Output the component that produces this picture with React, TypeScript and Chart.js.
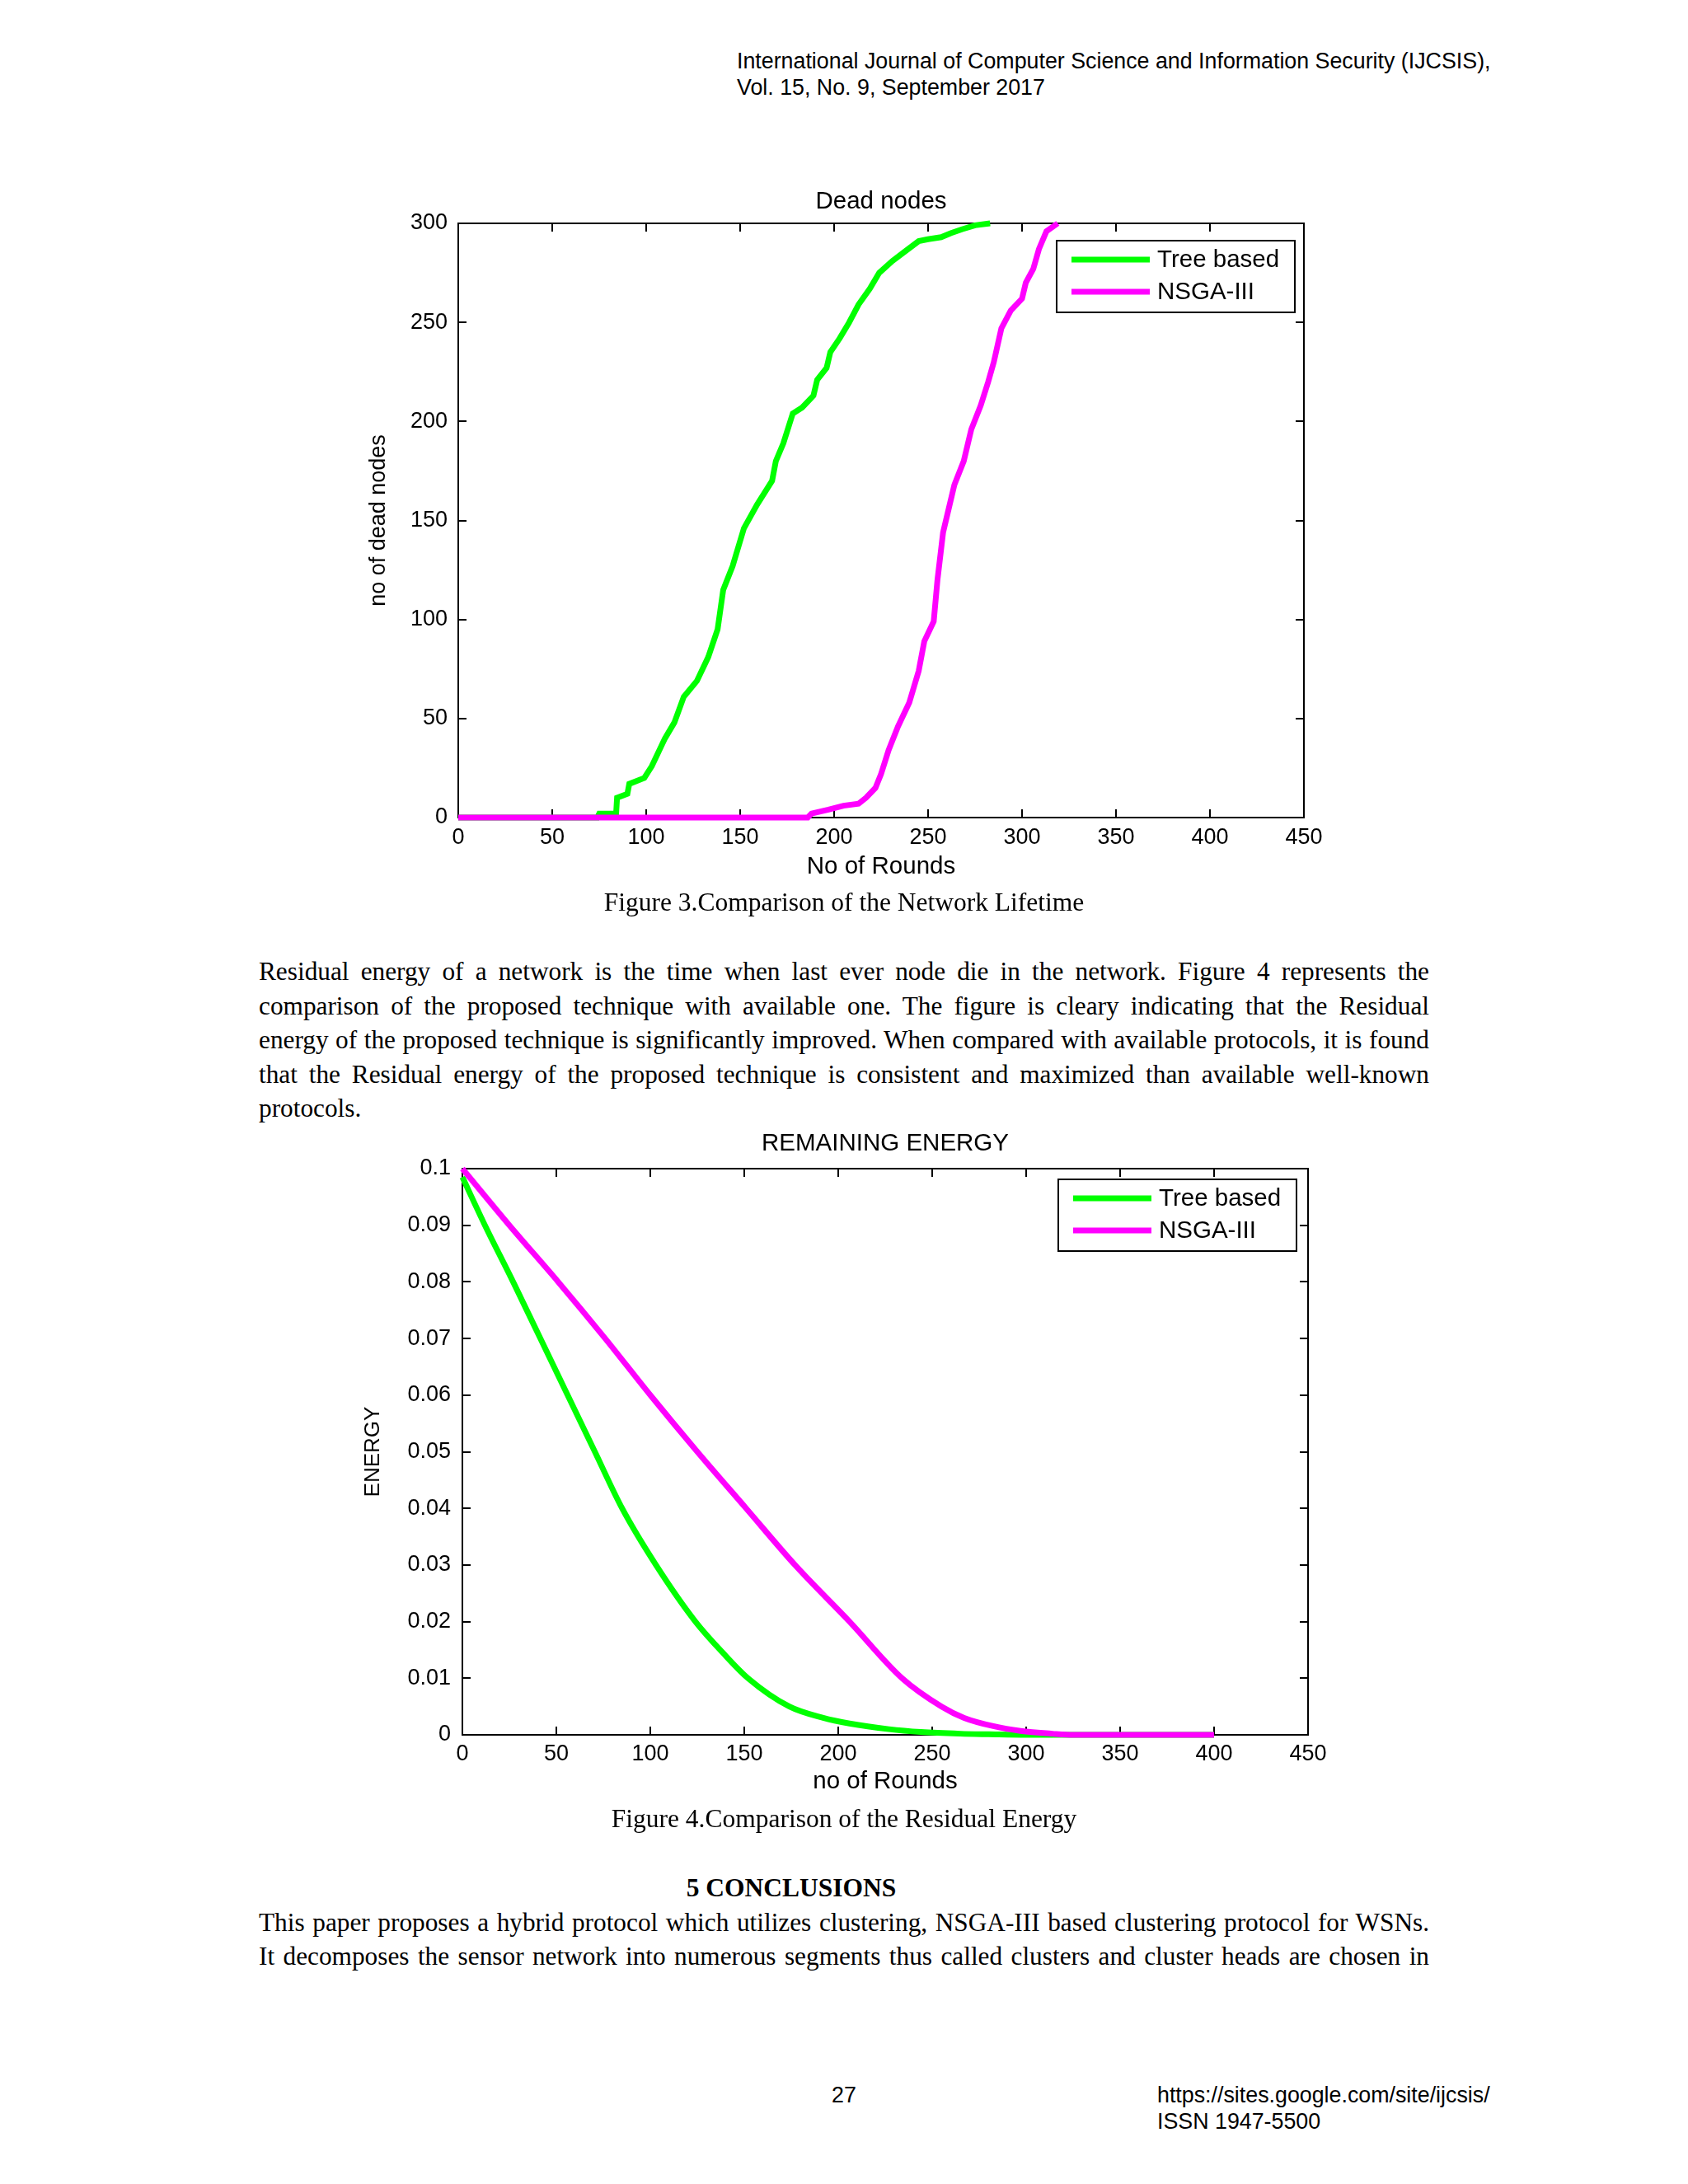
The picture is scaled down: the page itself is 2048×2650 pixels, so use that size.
import React, { useEffect, useRef } from "react";
import { Chart, registerables } from "chart.js";

Chart.register(...registerables);

// ---------- Figure 3 data (Dead nodes) ----------
const deadXTicks = [0, 50, 100, 150, 200, 250, 300, 350, 400, 450];
const deadYTicks = [0, 50, 100, 150, 200, 250, 300];
const treeRounds = [0, 74, 75, 84, 84.5, 90, 91, 99, 103, 110, 115, 120, 127, 133, 138, 141, 146, 152, 159, 167, 169, 173, 178, 183, 189, 191, 196, 198, 203, 208, 213, 219, 224, 231, 238, 245, 250, 257, 262, 268, 275, 283];
const treeDead = [0, 0, 2, 2, 10, 12, 17, 20, 26, 40, 48, 61, 69, 81, 95, 115, 127, 146, 158, 170, 180, 189, 204, 207, 213, 221, 227, 235, 242, 250, 259, 267, 275, 281, 286, 291, 292, 293, 295, 297, 299, 300];
const nsgaRounds = [0, 186, 188, 197, 205, 213, 217, 222, 225, 229, 234, 240, 245, 248, 253, 255, 258, 261, 264, 269, 273, 278, 282, 285, 289, 294, 300, 302, 306, 309, 313, 319];
const nsgaDead = [0, 0, 2, 4, 6, 7, 10, 15, 22, 34, 46, 58, 74, 89, 99, 120, 144, 156, 168, 180, 196, 208, 220, 230, 247, 256, 262, 270, 277, 287, 296, 300];

// ---------- Figure 4 data (Remaining energy) ----------
const energyXTicks = [0, 50, 100, 150, 200, 250, 300, 350, 400, 450];
const energyYTicks = [0, 0.01, 0.02, 0.03, 0.04, 0.05, 0.06, 0.07, 0.08, 0.09, 0.1];
const treeEnergyRounds = [0, 12, 27, 41.5, 56, 70.5, 85, 103, 124, 140, 152, 174, 192, 206, 227, 244, 265, 280, 300, 400];
const treeEnergy = [0.0985, 0.09, 0.08, 0.07, 0.06, 0.05, 0.04, 0.03, 0.02, 0.014, 0.01, 0.005, 0.003, 0.002, 0.001, 0.0005, 0.0002, 0.0001, 0, 0];
const nsgaEnergyRounds = [0, 25, 51, 76, 100, 125, 151, 177, 206, 234, 255, 267, 283, 297, 314, 325, 400];
const nsgaEnergy = [0.1, 0.09, 0.08, 0.07, 0.06, 0.05, 0.04, 0.03, 0.02, 0.01, 0.005, 0.003, 0.0015, 0.0007, 0.0002, 0, 0];

const seriesNames = ["Tree based", "NSGA-III"];
const seriesColors = ["#00ff00", "#ff00ff"];

const SANS = "'Liberation Sans', Arial, sans-serif";
const SERIF = "'Liberation Serif', 'Times New Roman', serif";

const matlabPlugin = {
  id: "matlabBox",
  beforeDatasetsDraw(chart: any, _args: any, opts: any) {
    const { ctx, chartArea } = chart;
    const { left, right, top, bottom } = chartArea;
    const xs = chart.scales.x;
    const ys = chart.scales.y;
    ctx.save();
    ctx.strokeStyle = "#000";
    ctx.lineWidth = 2;
    ctx.strokeRect(left, top, right - left, bottom - top);
    const tl = opts.tickLen || 10;
    ctx.beginPath();
    (opts.xTicks || []).forEach((v: number) => {
      const px = Math.round(xs.getPixelForValue(v));
      ctx.moveTo(px, bottom);
      ctx.lineTo(px, bottom - tl);
      ctx.moveTo(px, top);
      ctx.lineTo(px, top + tl);
    });
    (opts.yTicks || []).forEach((v: number) => {
      const py = Math.round(ys.getPixelForValue(v));
      ctx.moveTo(left, py);
      ctx.lineTo(left + tl, py);
      ctx.moveTo(right, py);
      ctx.lineTo(right - tl, py);
    });
    ctx.stroke();
    ctx.restore();
  },
  afterDatasetsDraw(chart: any, _args: any, opts: any) {
    const { ctx, chartArea } = chart;
    const w = opts.legendW;
    const h = opts.legendH;
    const bx = chartArea.right - opts.legendRight - w;
    const by = chartArea.top + opts.legendTop;
    ctx.save();
    ctx.fillStyle = "#fff";
    ctx.fillRect(bx, by, w, h);
    ctx.strokeStyle = "#000";
    ctx.lineWidth = 2;
    ctx.strokeRect(bx, by, w, h);
    ctx.font = `29.5px ${SANS}`;
    ctx.textBaseline = "middle";
    ctx.textAlign = "left";
    seriesNames.forEach((name, i) => {
      const ry = by + opts.rows[i];
      ctx.strokeStyle = seriesColors[i];
      ctx.lineWidth = 7;
      ctx.beginPath();
      ctx.moveTo(bx + 18, ry);
      ctx.lineTo(bx + 113, ry);
      ctx.stroke();
      ctx.fillStyle = "#000";
      ctx.fillText(name, bx + 122, ry + 1);
    });
    ctx.restore();
  },
};

function makeConfig(p: any) {
  const tickFont = { family: SANS, size: 27 };
  const ds = (i: number, xs: number[], ys: number[]) => ({
    label: seriesNames[i],
    data: xs.map((x: number, k: number) => ({ x, y: ys[k] })),
    borderColor: seriesColors[i],
    borderWidth: 7,
    pointRadius: 0,
    tension: p.smooth ? 0.4 : 0,
    cubicInterpolationMode: p.smooth ? "monotone" : "default",
    fill: false,
    clip: false,
    order: 2 - i,
  });
  return {
    type: "line",
    data: {
      datasets: [ds(0, p.s1x, p.s1y), ds(1, p.s2x, p.s2y)],
    },
    options: {
      responsive: false,
      animation: false,
      devicePixelRatio: 1,
      layout: { padding: { left: 0, top: 0, right: p.padRight, bottom: 0 } },
      plugins: {
        legend: { display: false },
        tooltip: { enabled: false },
        title: {
          display: true,
          text: p.title,
          fullSize: false,
          color: "#000",
          font: { family: SANS, size: 29.5, weight: "normal" },
          padding: { top: p.titlePadTop, bottom: p.titlePadBottom },
        },
        matlabBox: {
          xTicks: p.xTicks,
          yTicks: p.yTicks,
          tickLen: 10,
          legendW: 289,
          legendH: 87,
          legendRight: p.legendRight,
          legendTop: p.legendTop,
          rows: [23, 62],
        },
      },
      scales: {
        x: {
          type: "linear",
          min: p.xTicks[0],
          max: p.xTicks[p.xTicks.length - 1],
          afterBuildTicks: (s: any) => {
            s.ticks = p.xTicks.map((v: number) => ({ value: v }));
          },
          ticks: {
            font: tickFont,
            color: "#000",
            padding: p.xTickPad,
            maxRotation: 0,
            autoSkip: false,
            callback: (v: any) => String(v),
          },
          grid: { display: false, drawTicks: false },
          border: { display: false },
          title: {
            display: true,
            text: p.xTitle,
            color: "#000",
            font: { family: SANS, size: 29.5 },
            padding: { top: 0, bottom: p.xTitlePad },
          },
          afterFit: (s: any) => {
            s.height = p.xAxisH;
            s.paddingLeft = 0;
            s.paddingRight = 0;
          },
        },
        y: {
          type: "linear",
          min: p.yTicks[0],
          max: p.yTicks[p.yTicks.length - 1],
          afterBuildTicks: (s: any) => {
            s.ticks = p.yTicks.map((v: number) => ({ value: v }));
          },
          ticks: {
            font: tickFont,
            color: "#000",
            padding: p.yTickPad,
            autoSkip: false,
            callback: (v: any) => String(Math.round(Number(v) * 100) / 100),
          },
          grid: { display: false, drawTicks: false },
          border: { display: false },
          title: {
            display: true,
            text: p.yTitle,
            color: "#000",
            font: { family: SANS, size: p.yTitleSize },
            padding: { top: p.yTitlePad, bottom: 0 },
          },
          afterFit: (s: any) => {
            s.width = p.yAxisW;
            s.paddingTop = 0;
            s.paddingBottom = 0;
          },
        },
      },
    },
    plugins: [matlabPlugin],
  };
}

function ChartCanvas({ left, top, width, height, params }: any) {
  const ref = useRef<HTMLCanvasElement>(null);
  useEffect(() => {
    const chart = new Chart(ref.current as HTMLCanvasElement, makeConfig(params) as any);
    return () => chart.destroy();
  }, []);
  return (
    <canvas
      ref={ref}
      width={width}
      height={height}
      style={{ position: "absolute", left, top, width, height }}
    />
  );
}

const deadParams = {
  title: "Dead nodes",
  xTitle: "No of Rounds",
  yTitle: "no of dead nodes",
  yTitleSize: 27,
  smooth: false,
  xTicks: deadXTicks,
  yTicks: deadYTicks,
  s1x: treeRounds,
  s1y: treeDead,
  s2x: nsgaRounds,
  s2y: nsgaDead,
  padRight: 68,
  titlePadTop: 27,
  titlePadBottom: 8.6,
  xAxisH: 108,
  yAxisW: 156,
  xTickPad: 8,
  yTickPad: 13,
  xTitlePad: 30,
  yTitlePad: 43.8,
  legendRight: 11,
  legendTop: 21,
};

const energyParams = {
  title: "REMAINING ENERGY",
  xTitle: "no of Rounds",
  yTitle: "ENERGY",
  yTitleSize: 26,
  smooth: true,
  xTicks: energyXTicks,
  yTicks: energyYTicks,
  s1x: treeEnergyRounds,
  s1y: treeEnergy,
  s2x: nsgaEnergyRounds,
  s2y: nsgaEnergy,
  padRight: 63,
  titlePadTop: 30.5,
  titlePadBottom: 12.1,
  xAxisH: 115,
  yAxisW: 161,
  xTickPad: 7,
  yTickPad: 14,
  xTitlePad: 40,
  yTitlePad: 37.4,
  legendRight: 14,
  legendTop: 13,
};

const para1 = [
  "Residual energy of a network is the time when last ever node die in the network. Figure 4 represents the",
  "comparison of the proposed technique with available one. The figure is cleary indicating that the Residual",
  "energy of the proposed technique is significantly improved. When compared with available protocols, it is found",
  "that the Residual energy of the proposed technique is consistent and maximized than available well-known",
  "protocols.",
];
const para2 = [
  "This paper proposes a hybrid protocol which utilizes clustering, NSGA-III based clustering protocol for WSNs.",
  "It decomposes the sensor network into numerous segments thus called clusters and cluster heads are chosen in",
];

const bodyLine = (text: string, justify: boolean, key: number) => (
  <div
    key={key}
    style={{
      height: 41.5,
      lineHeight: "41.5px",
      textAlign: justify ? "justify" : "left",
      textAlignLast: justify ? "justify" : "left",
      whiteSpace: "nowrap",
    } as any}
  >
    {text}
  </div>
);

export default function App() {
  const abs = (left: number, top: number, extra: any = {}) => ({
    position: "absolute" as const,
    left,
    top,
    ...extra,
  });
  const hdr = { fontFamily: SANS, fontSize: 26.8, lineHeight: "32px", whiteSpace: "nowrap" };
  return (
    <div
      style={{
        position: "absolute",
        left: 0,
        top: 0,
        width: 2048,
        height: 2650,
        background: "#fff",
        color: "#000",
        overflow: "hidden",
      }}
    >
      <div style={abs(894, 58, hdr)}>
        International Journal of Computer Science and Information Security (IJCSIS),
      </div>
      <div style={abs(894, 90, hdr)}>Vol. 15, No. 9, September 2017</div>

      <ChartCanvas left={400} top={200} width={1250} height={900} params={deadParams} />

      <div style={abs(0, 1075, { width: 2048, textAlign: "center", fontFamily: SERIF, fontSize: 31.5, lineHeight: "40px" })}>
        Figure 3.Comparison of the Network Lifetime
      </div>

      <div style={abs(314, 1158, { width: 1420, fontFamily: SERIF, fontSize: 31.3 })}>
        {para1.map((t, i) => bodyLine(t, i < para1.length - 1, i))}
      </div>

      <ChartCanvas left={400} top={1340} width={1250} height={880} params={energyParams} />

      <div style={abs(0, 2187, { width: 2048, textAlign: "center", fontFamily: SERIF, fontSize: 31.5, lineHeight: "40px" })}>
        Figure 4.Comparison of the Residual Energy
      </div>

      <div style={abs(760, 2270, { width: 400, textAlign: "center", fontFamily: SERIF, fontSize: 31.5, fontWeight: "bold", lineHeight: "41.5px" })}>
        5 CONCLUSIONS
      </div>
      <div style={abs(314, 2311.5, { width: 1420, fontFamily: SERIF, fontSize: 31.3 })}>
        {para2.map((t, i) => bodyLine(t, true, i))}
      </div>

      <div style={abs(1009, 2526, hdr)}>27</div>
      <div style={abs(1404, 2526, hdr)}>https://sites.google.com/site/ijcsis/</div>
      <div style={abs(1404, 2558, hdr)}>ISSN 1947-5500</div>
    </div>
  );
}
